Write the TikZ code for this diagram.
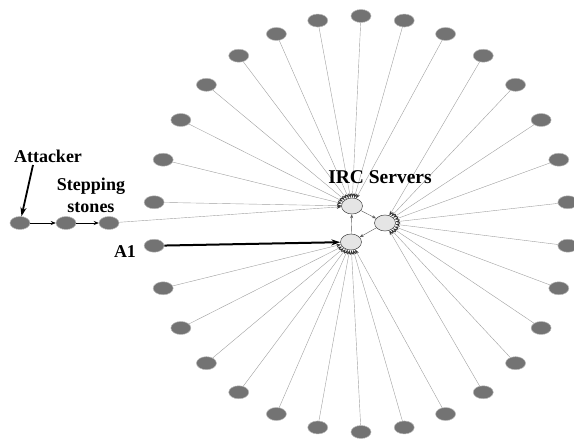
\documentclass[tikz,border=0pt]{standalone}
\usepackage{fontspec}
\setmainfont{Liberation Serif}
\usetikzlibrary{shapes.geometric,arrows.meta}
\definecolor{hostgray}{RGB}{115,115,115}
\tikzset{
	host/.style={ellipse,fill=hostgray,draw=gray!55,line width=0.5pt,minimum width=20pt,minimum height=13pt,inner sep=0pt},
	server/.style={ellipse,fill=gray!20,draw=gray!55!black,line width=0.5pt,minimum width=21pt,minimum height=16pt,inner sep=0pt},
	client/.style={draw=gray!75,line width=0.4pt,-{Stealth[length=4.5pt,width=3.5pt,color=black!80]}},
	link/.style={draw=gray!70!black,line width=0.4pt,-{Stealth[length=4pt,width=3pt]}},
	hop/.style={draw=black,line width=0.6pt,-{Stealth[length=5pt,width=4pt]}},
	pointer/.style={draw=black,line width=1.8pt,-{Stealth[length=9pt,width=6pt]}},
	lbl/.style={font=\bfseries\fontsize{18}{22}\selectfont,align=center,inner sep=0pt},
}
\begin{document}
	\begin{tikzpicture}[x=1pt,y=-1pt]
		\useasboundingbox (0,0) rectangle (574,441);
		% IRC servers
		\node[server] (s1) at (352,206) {};
		\node[server] (s2) at (351,242) {};
		\node[server] (s3) at (385,223) {};
		% clients on the ring
		\foreach \k in {0,...,29}
			\node[host] (r\k) at ({361+208*cos(90+12*\k)},{224-208*sin(90+12*\k)}) {};
		\foreach \k in {0,...,7,28,29}
			\draw[client] (r\k) -- (s1);
		\foreach \k in {9,...,17}
			\draw[client] (r\k) -- (s2);
		\foreach \k in {18,...,27}
			\draw[client] (r\k) -- (s3);
		\draw[link] (s2) -- (s1);
		\draw[link] (s1) -- (s3);
		\draw[link] (s3) -- (s2);
		% attacker and stepping stones
		\node[host] (att) at (20,223) {};
		\node[host] (st1) at (66,223) {};
		\node[host] (st2) at (109,223) {};
		\draw[hop] (att) -- (st1);
		\draw[hop] (st1) -- (st2);
		\draw[client] (st2) -- (s1);
		% labels
		\node[lbl] (attlbl) at (48,156) {Attacker};
		\node[lbl] (stlbl) at (91,195) {Stepping\\stones};
		\node[lbl] (a1lbl) at (125,252) {A1};
		\node[lbl,font=\bfseries\fontsize{19.5}{22}\selectfont] (irclbl) at (380,177) {IRC Servers};
		\coordinate (atttail) at (33,165);
		\draw[pointer] (atttail) -- (att);
		\draw[pointer,line width=2pt] (r8) -- (s2);
	\end{tikzpicture}
\end{document}
